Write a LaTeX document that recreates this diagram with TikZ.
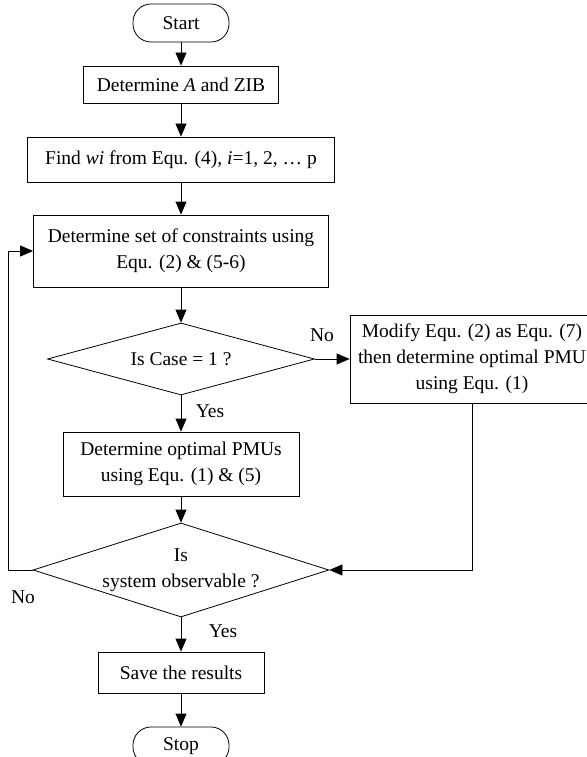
\documentclass[tikz,border=0pt]{standalone}
\usepackage{fontspec}
\setmainfont{Liberation Serif}
\usetikzlibrary{arrows.meta,shapes.geometric}

\begin{document}
\begin{tikzpicture}[x=1pt, y=-1pt, line width=0.8pt,
  font=\fontsize{19.5}{26}\selectfont,
  box/.style={draw, rectangle, align=center, inner sep=2pt},
  term/.style={draw, rectangle, rounded corners=18pt, minimum width=96pt, minimum height=38pt},
  test/.style={draw, diamond, align=center, inner sep=0pt},
  flow/.style={-{Triangle[length=13pt,width=11pt]}}]
  \useasboundingbox (0,0) rectangle (586,757);
  \node[term] (start) at (181,23) {Start};
  \node[box, minimum width=195pt, minimum height=37pt] (zib) at (181,84.5) {Determine \textit{A} and ZIB};
  \node[box, minimum width=307pt, minimum height=45pt] (wts) at (181,159.5) {Find \textit{wi} from Equ. (4), \textit{i}=1, 2, … p};
  \node[box, minimum width=295pt, minimum height=72pt] (cons) at (181,251) {Determine set of constraints using\\Equ. (2) \& (5-6)};
  \node[test, minimum width=267pt, minimum height=72pt, shape aspect=3.7] (case) at (181,359) {Is Case = 1 ?};
  \node[box, minimum width=244pt, minimum height=88pt] (mod) at (472,359) {Modify Equ. (2) as Equ. (7)\\then determine optimal PMU\\using Equ. (1)};
  \node[box, minimum width=236pt, minimum height=64pt] (opt) at (181,464) {Determine optimal PMUs\\using Equ. (1) \& (5)};
  \node[test, minimum width=296pt, minimum height=94pt, shape aspect=3.15] (obs) at (181,570) {Is\\system observable ?};
  \node[box, minimum width=166pt, minimum height=41pt] (save) at (181,672.5) {Save the results};
  \node[term] (stop) at (181,746) {Stop};
  \coordinate (back) at (8,570);

  \node (no1) at (322,335) {No};
  \node (yes1) at (210,411) {Yes};
  \node (no2) at (23,597) {No};
  \node (yes2) at (223,631) {Yes};

  \path[flow]
  (start) edge (zib)
  (zib) edge (wts)
  (wts) edge (cons)
  (cons) edge (case)
  (case) edge (opt)
          edge (mod)
  (opt) edge (obs)
  (obs) edge (save)
  (save) edge (stop)
  ;
  \draw[flow] (mod.south) |- (obs.east);
  \draw[flow] (obs.west) -- (back) |- (cons.west);
\end{tikzpicture}
\end{document}
